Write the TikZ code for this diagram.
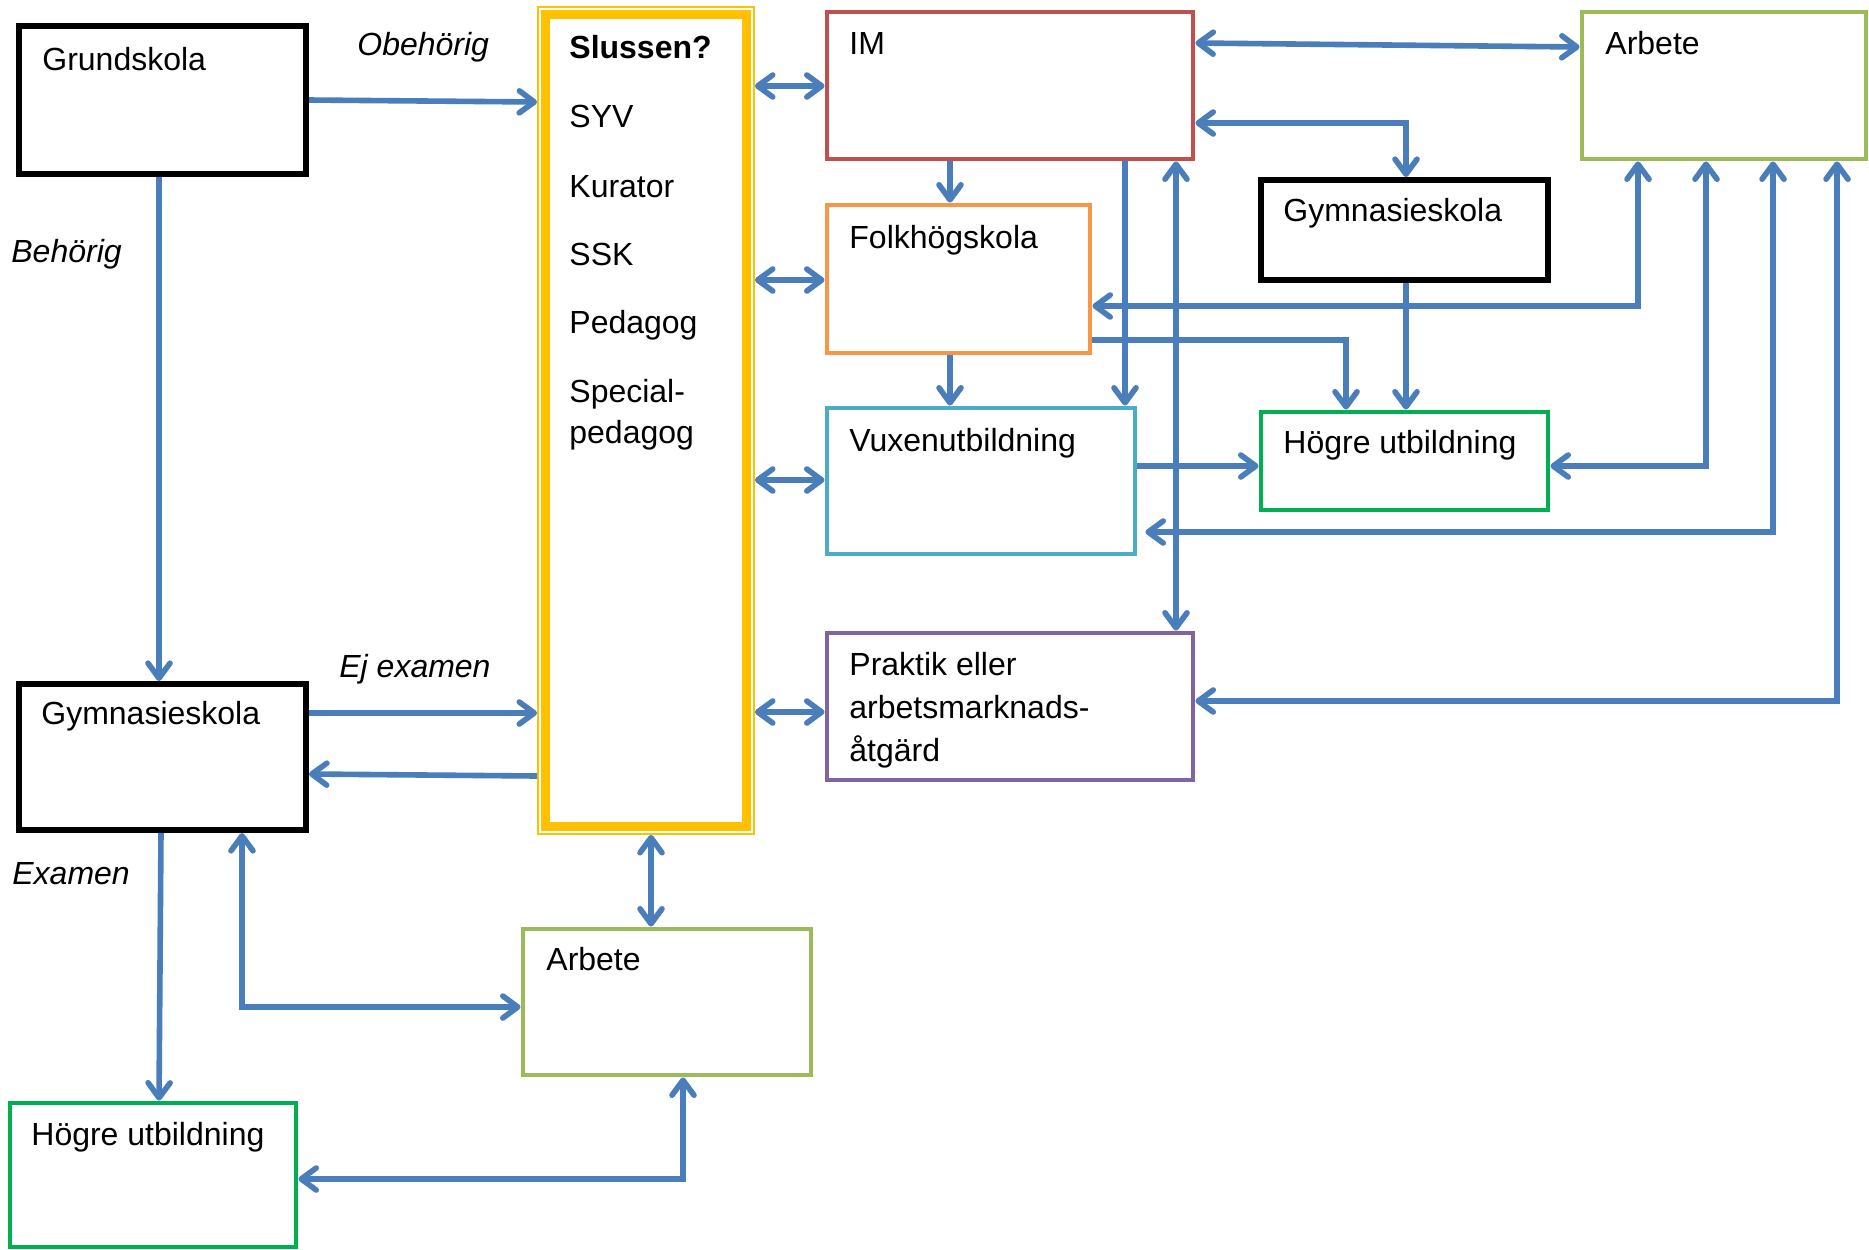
\documentclass[tikz,border=0pt]{standalone}
\usepackage{fontspec}
\setmainfont{Liberation Sans}
\usetikzlibrary{arrows.meta,fit}
\definecolor{ablue}{HTML}{4A7EBB}
\definecolor{imred}{HTML}{C0504D}
\definecolor{folkorange}{HTML}{F79646}
\definecolor{vuxteal}{HTML}{4BACC6}
\definecolor{hoggreen}{HTML}{00B050}
\definecolor{arbgreen}{HTML}{9BBB59}
\definecolor{prakpurple}{HTML}{8064A2}
\definecolor{slussyellow}{HTML}{FFC000}
\tikzset{
  box/.style={inner sep=0pt, line width=2.4pt},
  blackbox/.style={box, draw=black, line width=3pt},
  lbl/.style={anchor=base west, inner sep=0pt, font=\fontsize{16}{19}\selectfont},
  ilbl/.style={lbl, font=\fontsize{16}{19}\selectfont\itshape},
  conn/.style={draw=ablue, line width=2.8pt},
  arr/.style={conn, -{Straight Barb[round,length=7.5pt,width=11pt]}},
  darr/.style={conn, {Straight Barb[round,length=7.5pt,width=11pt]}-{Straight Barb[round,length=7.5pt,width=11pt]}},
}
\begin{document}
\begin{tikzpicture}[x=0.5pt,y=-0.5pt]
\fill[white] (0,0) rectangle (1869,1249);
\useasboundingbox (0,0) rectangle (1869,1249);

% boxes
\node[blackbox, fit={(19,26) (306,174)}] (grund) {};
\node[blackbox, fit={(19,684) (306,830)}] (gymL) {};
\node[box, draw=hoggreen, fit={(10,1103) (296,1247)}] (hogL) {};
\node[box, draw=arbgreen, fit={(523,929) (811,1075)}] (arbB) {};
\node[box, draw=slussyellow, line width=0.9pt, fit={(538,7) (754,834)}] (sluss) {};
\draw[slussyellow, line width=4.5pt] ([shift={(8,8)}]sluss.north west) rectangle ([shift={(-8,-8)}]sluss.south east);
\node[box, draw=imred, fit={(827,12) (1193,159)}] (im) {};
\node[box, draw=arbgreen, fit={(1582,12) (1866,159)}] (arbT) {};
\node[box, draw=folkorange, fit={(827,205) (1090,353)}] (folk) {};
\node[blackbox, fit={(1261,180) (1548,280)}] (gymR) {};
\node[box, draw=vuxteal, fit={(827,408) (1135,554)}] (vux) {};
\node[box, draw=hoggreen, fit={(1261,412) (1548,510)}] (hogR) {};
\node[box, draw=prakpurple, fit={(827,633) (1193,780)}] (prak) {};

% texts
\node[lbl] (grundT) at (42,70) {Grundskola};
\node[lbl] (gymLT) at (41,724) {Gymnasieskola};
\node[lbl] (hogLT) at (31,1145) {Högre utbildning};
\node[lbl] (arbBT) at (546,970) {Arbete};
\node[lbl] (imT) at (849,54) {IM};
\node[lbl] (arbTT) at (1605,54) {Arbete};
\node[lbl] (folkT) at (849,248) {Folkhögskola};
\node[lbl] (gymRT) at (1283,221) {Gymnasieskola};
\node[lbl] (vuxT) at (849,451) {Vuxenutbildning};
\node[lbl] (hogRT) at (1283,453) {Högre utbildning};
\node[lbl] (prakT1) at (849,675) {Praktik eller};
\node[lbl] (prakT2) at (849,718) {arbetsmarknads-};
\node[lbl] (prakT3) at (849,761) {åtgärd};
\node[lbl, font=\fontsize{16}{19}\selectfont\bfseries] (sl1) at (569,58) {Slussen?};
\node[lbl] (sl2) at (569,127) {SYV};
\node[lbl] (sl3) at (569,197) {Kurator};
\node[lbl] (sl4) at (569,265) {SSK};
\node[lbl] (sl5) at (569,333) {Pedagog};
\node[lbl] (sl6) at (569,402) {Special-};
\node[lbl] (sl7) at (569,443) {pedagog};
\node[ilbl] (obeh) at (357,55) {Obehörig};
\node[ilbl] (beh) at (11,262) {Behörig};
\node[ilbl] (ejex) at (339,677) {Ej examen};
\node[ilbl] (exam) at (12,884) {Examen};

% connectors
\draw[arr] (grund.east |- 0,100) -- (sluss.west |- 0,102);
\draw[arr] (159,0 |- grund.south) -- (159,0 |- gymL.north);
\draw[arr] (gymL.east |- 0,713) -- (sluss.west |- 0,713);
\draw[arr] (sluss.west |- 0,776) -- (gymL.east |- 0,774);
\draw[arr] (161,0 |- gymL.south) -- (159,0 |- hogL.north);
\draw[darr] (242,0 |- gymL.south) |- (arbB.west |- 0,1007);
\draw[darr] (651,0 |- sluss.south) -- (651,0 |- arbB.north);
\draw[darr] (683,0 |- arbB.south) |- (hogL.east |- 0,1179);
\draw[darr] (sluss.east |- 0,86) -- (im.west |- 0,86);
\draw[darr] (sluss.east |- 0,280) -- (folk.west |- 0,280);
\draw[darr] (sluss.east |- 0,480) -- (vux.west |- 0,480);
\draw[darr] (sluss.east |- 0,712) -- (prak.west |- 0,712);
\draw[darr] (im.east |- 0,43) -- (arbT.west |- 0,47);
\draw[darr] (im.east |- 0,123) -| (1406,0 |- gymR.north);
\draw[arr] (950,0 |- im.south) -- (950,0 |- folk.north);
\draw[arr] (1125,0 |- im.south) -- (1125,0 |- vux.north);
\draw[darr] (1176,0 |- im.south) -- (1176,0 |- prak.north);
\draw[darr] (1638,0 |- arbT.south) |- (folk.east |- 0,306);
\draw[arr] (folk.east |- 0,340) -| (1346,0 |- hogR.north);
\draw[arr] (1406,0 |- gymR.south) -- (1406,0 |- hogR.north);
\draw[arr] (950,0 |- folk.south) -- (950,0 |- vux.north);
\draw[arr] (vux.east |- 0,466) -- (hogR.west |- 0,466);
\draw[darr] (1706,0 |- arbT.south) |- (hogR.east |- 0,466);
\draw[darr] (1773,0 |- arbT.south) |- ([xshift=4]vux.east |- 0,532);
\draw[darr] (1837,0 |- arbT.south) |- (prak.east |- 0,701);
\end{tikzpicture}
\end{document}
